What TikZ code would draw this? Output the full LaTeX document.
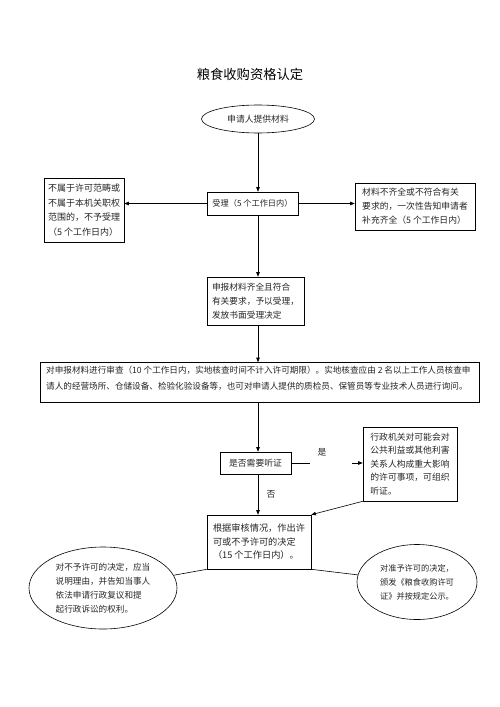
\documentclass[tikz,border=0pt]{standalone}
\usepackage{fontspec}
\newfontfamily\cjk{Noto Sans CJK SC}
\usetikzlibrary{shapes.geometric,arrows.meta}
\newcommand{\fz}[2]{\cjk\fontsize{#1}{#2}\selectfont}
\begin{document}
\begin{tikzpicture}[x=1pt,y=-1pt,
  txt/.style={font=\fz{8.8}{14}, text=black!85, align=left, inner sep=0pt},
  box/.style={txt, draw=black, line width=0.6pt, inner xsep=4pt, inner ysep=2pt},
  ell/.style={txt, draw=black, line width=0.6pt, ellipse},
  conn/.style={draw=black, line width=0.6pt},
  arr/.style={conn, -{Triangle[length=4.5pt,width=3.5pt]}}]
\fill[white] (0,0) rectangle (500,707);
\useasboundingbox (0,0) rectangle (500,707);
\coordinate (col) at (258,0);
\node[font=\fz{13.3}{16}] (title) at (250,74) {粮食收购资格认定};
\node[ell, minimum width=113, minimum height=28] (start) at (258,119) {申请人提供材料};
\node[box, minimum width=91, minimum height=23, font=\fz{8.2}{14}] (acc) at (252.5,203.5) {受理（5 个工作日内）};
\node[box, minimum width=80, minimum height=64, font=\fz{9}{14.5}] (rej) at (84,210) {不属于许可范畴或\\不属于本机关职权\\范围的，不予受理\\（5 个工作日内）};
\node[box, minimum width=120, minimum height=47, font=\fz{8.8}{14}] (sup) at (415,206.5) {材料不齐全或不符合有关\\要求的，一次性告知申请者\\补充齐全（5 个工作日内）};
\node[box, minimum width=97, minimum height=48, font=\fz{8.7}{14}] (ok) at (255.5,301) {申报材料齐全且符合\\有关要求，予以受理，\\发放书面受理决定};
\node[box, minimum width=439, minimum height=40] (rev) at (259.5,382.5) {};
\node[txt, anchor=north west, font=\fz{8.6}{15.5}] (revt) at (46,366) {对申报材料进行审查（10 个工作日内，实地核查时间不计入许可期限）。实地核查应由 2 名以上工作人员核查申\\请人的经营场所、仓储设备、检验化验设备等，也可对申请人提供的质检员、保管员等专业技术人员进行询问。};
\node[box, minimum width=71, minimum height=22] (q) at (255.5,463) {是否需要听证};
\node[box, minimum width=94, minimum height=74, font=\fz{8.8}{13.5}] (hear) at (410,464) {行政机关对可能会对\\公共利益或其他利害\\关系人构成重大影响\\的许可事项，可组织\\听证。};
\node[box, minimum width=104, minimum height=54, font=\fz{9.2}{13.5}] (dec) at (259,542) {根据审核情况，作出许\\可或不予许可的决定\\（15 个工作日内）。};
\node[ell, minimum width=148, minimum height=82, font=\fz{8.6}{14}] (no) at (103,588) {对不予许可的决定，应当\\说明理由，并告知当事人\\依法申请行政复议和提\\起行政诉讼的权利。};
\node[ell, minimum width=120, minimum height=75, font=\fz{8.2}{14}] (yes) at (417,582) {对准予许可的决定，\\颁发《粮食收购许可\\证》并按规定公示。};
\node[txt] (yeslab) at (322,452) {是};
\node[txt] (nolab) at (271,494) {否};
\coordinate (c1) at (310,463);
\coordinate (c2) at (352,463);
% connectors
\draw[arr] (col |- start.south) -- (col |- acc.north);
\draw[arr] (acc.west) -- (acc.west -| rej.east);
\draw[arr] (acc.east) -- (acc.east -| sup.west);
\draw[arr] (col |- acc.south) -- (col |- ok.north);
\draw[arr] (col |- ok.south) -- (col |- rev.north);
\draw[arr] (col |- rev.south) -- (col |- q.north);
\draw[arr] (col |- q.south) -- (col |- dec.north);
\draw[conn] (q.east) -- (c1);
\draw[arr] (c2) -- (c2 -| hear.west);
\draw[arr] (hear.south west) -- (dec.north east);
\draw[conn] (dec.south west) -- (no);
\draw[conn] (dec.south east) -- (yes);
\end{tikzpicture}
\end{document}
